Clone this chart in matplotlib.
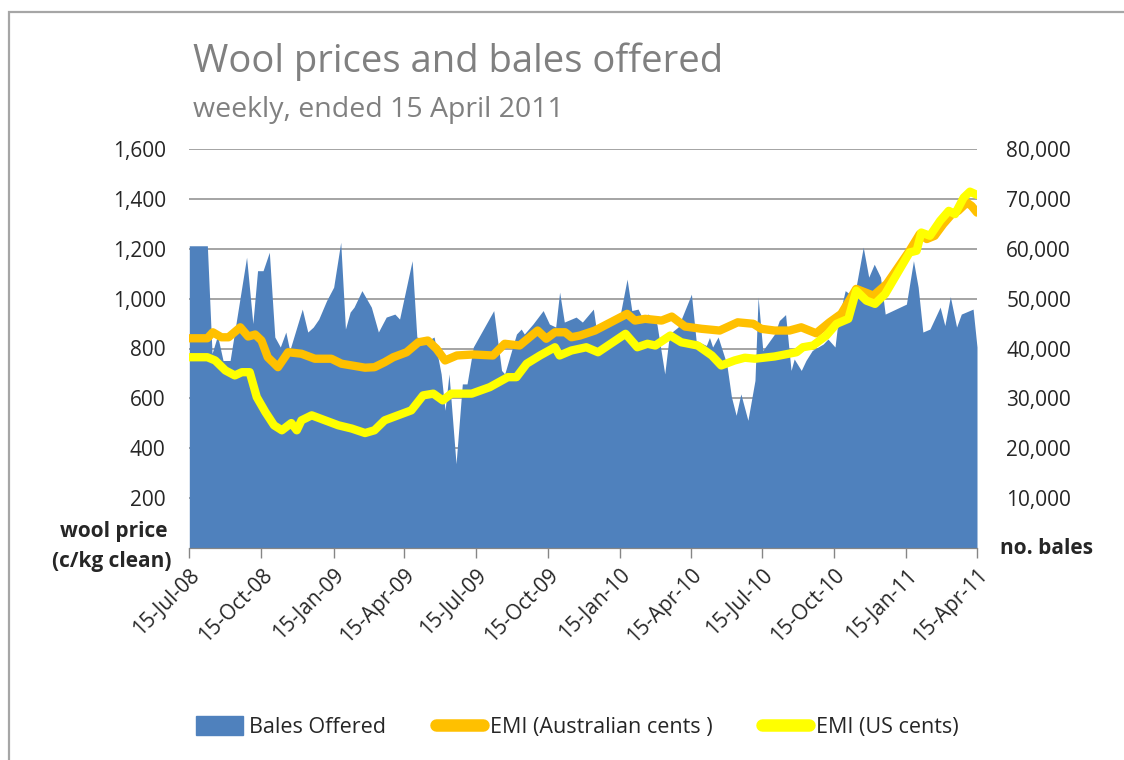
import matplotlib
matplotlib.use("Agg")
import pandas as pd
import matplotlib.pyplot as plt
import matplotlib.dates as mdates
import matplotlib.ticker as mticker
from matplotlib.patches import Rectangle, Patch
from matplotlib.lines import Line2D

plt.rcParams['font.family'] = ['Open Sans', 'DejaVu Sans']

# weekly bales offered (right axis)
bale_dates = ["2008-07-15", "2008-08-07", "2008-08-13", "2008-08-20", "2008-08-27", "2008-09-05",
              "2008-09-26", "2008-10-04", "2008-10-10", "2008-10-17", "2008-10-25", "2008-11-01",
              "2008-11-08", "2008-11-15", "2008-11-20", "2008-12-06", "2008-12-13", "2008-12-20",
              "2008-12-27", "2009-01-06", "2009-01-15", "2009-01-24", "2009-01-30", "2009-02-05",
              "2009-02-10", "2009-02-20", "2009-03-04", "2009-03-13", "2009-03-23", "2009-04-03",
              "2009-04-09", "2009-04-25", "2009-05-01", "2009-05-15", "2009-05-23", "2009-06-01",
              "2009-06-06", "2009-06-11", "2009-06-20", "2009-06-28", "2009-07-04", "2009-07-12",
              "2009-08-07", "2009-08-17", "2009-08-21", "2009-09-05", "2009-09-11", "2009-09-15",
              "2009-09-26", "2009-10-09", "2009-10-17", "2009-10-25", "2009-10-30", "2009-11-05",
              "2009-11-20", "2009-11-28", "2009-12-12", "2009-12-16", "2010-01-05", "2010-01-15",
              "2010-01-24", "2010-01-30", "2010-02-07", "2010-02-12", "2010-02-20", "2010-03-03",
              "2010-03-13", "2010-03-19", "2010-03-30", "2010-04-16", "2010-04-22", "2010-05-05",
              "2010-05-09", "2010-05-13", "2010-05-20", "2010-05-31", "2010-06-06", "2010-06-12",
              "2010-06-18", "2010-06-27", "2010-07-06", "2010-07-10", "2010-07-16", "2010-07-31",
              "2010-08-06", "2010-08-14", "2010-08-21", "2010-08-25", "2010-09-03", "2010-09-09",
              "2010-09-17", "2010-10-01", "2010-10-07", "2010-10-16", "2010-10-20", "2010-10-29",
              "2010-11-04", "2010-11-11", "2010-11-21", "2010-11-28", "2010-12-05", "2010-12-13",
              "2010-12-19", "2011-01-15", "2011-01-24", "2011-01-30", "2011-02-05", "2011-02-14",
              "2011-02-27", "2011-03-05", "2011-03-12", "2011-03-20", "2011-03-26", "2011-04-10",
              "2011-04-15"]
bales = [60600, 60600, 39000, 42600, 37600, 37600,
         58300, 45000, 55600, 55600, 59300, 42300,
         40300, 43300, 39600, 47900, 43300, 44300,
         45900, 49600, 52300, 61300, 43900, 47300,
         48300, 51600, 48300, 43300, 46300, 46900,
         45900, 57600, 42300, 41600, 42300, 34900,
         27600, 34900, 16900, 32900, 32900, 40300,
         47600, 35600, 34900, 42900, 43900, 42900,
         44900, 47600, 44900, 44300, 51300, 45300,
         46300, 45300, 47900, 43600, 46000, 46600,
         53900, 47600, 47900, 46300, 46900, 44900,
         34900, 42900, 44300, 50900, 41600, 40600,
         42200, 40300, 42300, 36900, 30300, 26600,
         30900, 25600, 33600, 50300, 39600, 42900,
         45600, 46800, 35600, 37900, 35600, 37600,
         39600, 40900, 41900, 40300, 45600, 51600,
         50900, 51600, 60300, 54300, 56900, 54300,
         46900, 48900, 57600, 52300, 43300, 43900,
         48300, 44600, 50400, 44300, 46900, 47900,
         40300]

# EMI in Australian cents (left axis)
aud_dates = ["2008-07-15", "2008-08-07", "2008-08-14", "2008-08-25", "2008-09-03", "2008-09-18",
             "2008-09-28", "2008-10-07", "2008-10-15", "2008-10-23", "2008-11-05", "2008-11-18",
             "2008-12-05", "2008-12-22", "2009-01-12", "2009-01-25", "2009-02-24", "2009-03-08",
             "2009-03-21", "2009-04-01", "2009-04-18", "2009-05-03", "2009-05-15", "2009-05-26",
             "2009-06-06", "2009-06-21", "2009-07-12", "2009-08-06", "2009-08-21", "2009-09-09",
             "2009-10-02", "2009-10-13", "2009-10-24", "2009-11-06", "2009-11-14", "2009-11-25",
             "2009-12-14", "2010-01-24", "2010-02-03", "2010-02-16", "2010-03-09", "2010-03-22",
             "2010-04-08", "2010-04-29", "2010-05-22", "2010-06-14", "2010-07-04", "2010-07-14",
             "2010-07-31", "2010-08-19", "2010-09-03", "2010-09-22", "2010-10-09", "2010-10-24",
             "2010-11-12", "2010-12-04", "2010-12-21", "2011-01-19", "2011-02-01", "2011-02-10",
             "2011-02-20", "2011-03-03", "2011-03-14", "2011-03-22", "2011-04-02", "2011-04-08",
             "2011-04-15"]
emi_aud = [841, 841, 865, 845, 845, 885,
           848, 856, 832, 765, 725, 785,
           779, 759, 759, 739, 723, 725,
           745, 765, 785, 825, 832, 799,
           752, 772, 776, 772, 819, 812,
           872, 839, 865, 865, 845, 852,
           872, 939, 912, 919, 912, 928,
           888, 879, 872, 905, 899, 879,
           872, 872, 885, 861, 905, 939,
           1039, 1012, 1059, 1192, 1259, 1239,
           1252, 1299, 1339, 1352, 1385, 1372,
           1345]

# EMI in US cents (left axis)
us_dates = ["2008-07-15", "2008-08-07", "2008-08-17", "2008-08-30", "2008-09-11", "2008-09-20",
            "2008-09-30", "2008-10-09", "2008-10-20", "2008-10-31", "2008-11-10", "2008-11-22",
            "2008-11-29", "2008-12-05", "2008-12-18", "2009-01-04", "2009-01-21", "2009-02-07",
            "2009-02-24", "2009-03-08", "2009-03-21", "2009-04-01", "2009-04-24", "2009-05-09",
            "2009-05-22", "2009-06-03", "2009-06-14", "2009-07-10", "2009-08-02", "2009-08-25",
            "2009-09-05", "2009-09-18", "2009-10-05", "2009-10-24", "2009-10-30", "2009-11-14",
            "2009-12-03", "2009-12-18", "2010-01-22", "2010-02-06", "2010-02-19", "2010-03-01",
            "2010-03-20", "2010-04-03", "2010-04-24", "2010-05-12", "2010-05-24", "2010-06-10",
            "2010-06-23", "2010-07-06", "2010-07-31", "2010-08-28", "2010-09-05", "2010-09-18",
            "2010-10-05", "2010-10-18", "2010-11-02", "2010-11-12", "2010-11-25", "2010-12-06",
            "2010-12-19", "2011-01-19", "2011-01-28", "2011-02-03", "2011-02-14", "2011-02-27",
            "2011-03-10", "2011-03-18", "2011-03-29", "2011-04-06", "2011-04-15"]
emi_us = [765, 765, 752, 712, 692, 705,
          705, 605, 545, 492, 472, 501,
          472, 512, 532, 512, 492, 479,
          461, 472, 512, 525, 552, 612,
          619, 592, 619, 619, 645, 685,
          685, 739, 772, 805, 772, 792,
          805, 785, 859, 805, 819, 812,
          852, 825, 812, 772, 732, 752,
          763, 759, 768, 785, 805, 812,
          852, 899, 919, 1032, 992, 979,
          1019, 1185, 1192, 1265, 1252, 1312,
          1352, 1339, 1405, 1429, 1416]

tick_dates = ["2008-07-15", "2008-10-15", "2009-01-15", "2009-04-15", "2009-07-15", "2009-10-15",
              "2010-01-15", "2010-04-15", "2010-07-15", "2010-10-15", "2011-01-15", "2011-04-15"]
price_ticks = [200, 400, 600, 800, 1000, 1200, 1400, 1600]
bale_ticks = [10000, 20000, 30000, 40000, 50000, 60000, 70000, 80000]

blue = '#4f81bd'
orange = '#ffc000'
yellow = '#ffff00'
txt = '#262626'
W, H = 1124, 760

fig = plt.figure(figsize=(11.24, 7.6), dpi=100)
ax = fig.add_axes([189.3 / W, 1 - 548 / H, (977 - 189.3) / W, (548 - 149) / H])
ax2 = ax.twinx()
ax.set_zorder(2)
ax.patch.set_visible(False)
ax2.set_zorder(1)

# bales area on the right axis, grid underneath
ax2.set_axisbelow(True)
ax2.grid(axis='y', color='#8c8c8c', lw=1.1)
ax2.fill_between(pd.to_datetime(bale_dates), bales, 0, color=blue, lw=0, zorder=2)
ax2.set_ylim(0, 80000)
ax2.set_yticks(bale_ticks)
ax2.yaxis.set_major_formatter(mticker.StrMethodFormatter('{x:,.0f}'))
ax2.tick_params(axis='y', length=0, pad=21, labelsize=15, labelcolor=txt)

ax.plot(pd.to_datetime(aud_dates), emi_aud, color=orange, lw=6, solid_joinstyle='round',
        solid_capstyle='round')
ax.plot(pd.to_datetime(us_dates), emi_us, color=yellow, lw=6, solid_joinstyle='round',
        solid_capstyle='round')
ax.set_ylim(0, 1600)
ax.set_yticks(price_ticks)
ax.yaxis.set_major_formatter(mticker.StrMethodFormatter('{x:,.0f}'))
ax.tick_params(axis='y', length=0, pad=17, labelsize=15, labelcolor=txt)

ax.set_xlim(pd.Timestamp("2008-07-15"), pd.Timestamp("2011-04-15"))
ax.set_xticks(pd.to_datetime(tick_dates))
ax.xaxis.set_major_formatter(mdates.DateFormatter('%d-%b-%y'))
ax.tick_params(axis='x', direction='out', length=7, width=1, color='#868686', pad=5,
               labelsize=15, labelcolor=txt)
for lab in ax.get_xticklabels():
    lab.set_rotation(45)
    lab.set_ha('right')
    lab.set_rotation_mode('anchor')

for a in (ax, ax2):
    for s in ('left', 'right', 'top'):
        a.spines[s].set_visible(False)
    a.spines['bottom'].set_color('#868686')

# titles and axis captions
fig.text(193 / W, 1 - 62 / H, 'Wool prices and bales offered', fontsize=27.5, color='#808080',
         va='center', ha='left')
fig.text(193 / W, 1 - 110 / H, 'weekly, ended 15 April 2011', fontsize=20.5, color='#808080',
         va='center', ha='left')
fig.text(168 / W, 1 - 532 / H, 'wool price', fontsize=15, fontweight='bold', color=txt,
         ha='right', va='center')
fig.text(171 / W, 1 - 562 / H, '(c/kg clean)', fontsize=15, fontweight='bold', color=txt,
         ha='right', va='center')
fig.text(1000 / W, 1 - 548 / H, 'no. bales', fontsize=15, fontweight='bold', color=txt,
         ha='left', va='center')

handles = [Patch(color=blue, label='Bales Offered'),
           Line2D([], [], color=orange, lw=9, solid_capstyle='round', label='EMI (Australian cents )'),
           Line2D([], [], color=yellow, lw=9, solid_capstyle='round', label='EMI (US cents)')]
fig.legend(handles=handles, loc='center', bbox_to_anchor=(577 / W, 1 - 727 / H), ncol=3,
           frameon=False, fontsize=15.5, handlelength=2.2, handleheight=1.0, handletextpad=0.3,
           columnspacing=2.3, labelcolor=txt)

# outer chart frame (cut off at right and bottom)
fig.patches.append(Rectangle((9 / W, -0.1), 1.2, 1.1 - 12 / H, transform=fig.transFigure,
                             fill=False, edgecolor='#a6a6a6', lw=1.6))

fig.savefig('out.png', dpi=100, facecolor='white')
